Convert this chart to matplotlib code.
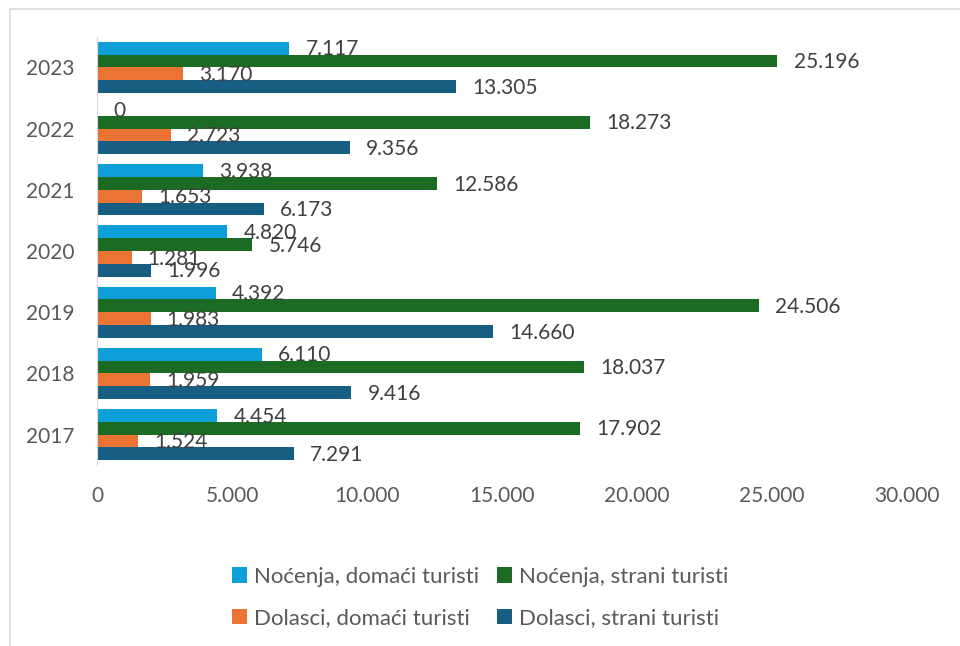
import matplotlib.pyplot as plt
from matplotlib.patches import Rectangle
import numpy as np

godine = ['2017', '2018', '2019', '2020', '2021', '2022', '2023']
nocenja_domaci = [4454, 6110, 4392, 4820, 3938, 0, 7117]
nocenja_strani = [17902, 18037, 24506, 5746, 12586, 18273, 25196]
dolasci_domaci = [1524, 1959, 1983, 1281, 1653, 2723, 3170]
dolasci_strani = [7291, 9416, 14660, 1996, 6173, 9356, 13305]

nazivi = ['Noćenja, domaći turisti', 'Noćenja, strani turisti',
          'Dolasci, domaći turisti', 'Dolasci, strani turisti']
boje = ['#0f9fd8', '#1b6b25', '#eb7334', '#165f82']

plt.rcParams['font.family'] = ['Lato', 'DejaVu Sans']

def fmt(v):
    return '{:,}'.format(v).replace(',', '.')

fig = plt.figure(figsize=(9.6, 6.46), dpi=100)
ax = fig.add_axes([0.101, 0.280, 0.844, 0.663])

y = np.arange(len(godine))
h = 0.209
serije = [nocenja_domaci, nocenja_strani, dolasci_domaci, dolasci_strani]
pomaci = [1.5, 0.5, -0.5, -1.5]

for vals, boja, naziv, p in zip(serije, boje, nazivi, pomaci):
    bars = ax.barh(y + p * h, vals, height=h, color=boja, label=naziv)
    for b, v in zip(bars, vals):
        ax.text(v + 600, b.get_y() + b.get_height() / 2 - 0.02, fmt(v),
                va='center', ha='left', fontsize=15, color='#404040')

ax.set_xlim(0, 30000)
ax.set_ylim(-0.5, len(godine) - 0.5)
ax.set_xticks(range(0, 30001, 5000))
ax.set_xticklabels([fmt(v) for v in range(0, 30001, 5000)])
ax.set_yticks(y)
ax.set_yticklabels(godine)
ax.tick_params(length=0, labelsize=15, labelcolor='#595959')
ax.tick_params(axis='x', pad=15)
ax.tick_params(axis='y', pad=16)
for s in ['top', 'right', 'bottom']:
    ax.spines[s].set_visible(False)
ax.spines['left'].set_color('#d9d9d9')

# legenda ispod grafa, redoslijed po redovima
hnd, lab = ax.get_legend_handles_labels()
red = [0, 2, 1, 3]
fig.legend([hnd[i] for i in red], [lab[i] for i in red], loc='center',
           bbox_to_anchor=(0.50, 0.075), ncol=2, frameon=False, fontsize=16,
           handlelength=0.7, handleheight=0.7, handletextpad=0.3,
           columnspacing=0.8, labelspacing=0.95, labelcolor='#595959')

# okvir oko grafikona
fig.patches.append(Rectangle((10 / 960, -0.1), 1.2, 1 - 9 / 646 + 0.1,
                             transform=fig.transFigure, fill=False,
                             edgecolor='#d9d9d9', linewidth=1.2))

fig.savefig('out.png', dpi=100)
